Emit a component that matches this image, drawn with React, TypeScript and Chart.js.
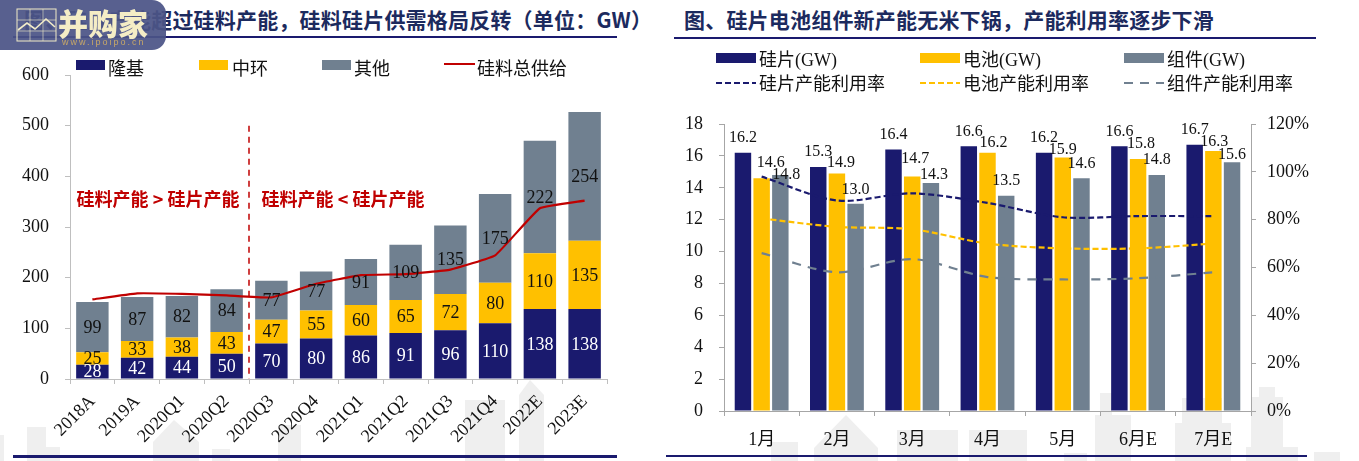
import React, { useEffect, useRef } from "react";
import { Chart, registerables } from "chart.js";

Chart.register(...registerables);

const SERIF = '"Liberation Serif","Noto Sans CJK SC"';
const CJK = '"Noto Sans CJK SC"';
const NAVY = "#1a1a6e";
const YELLOW = "#ffc000";
const SLATE = "#708090";
const RED = "#c00000";
const TITLE = "#1c2a5e";

// left chart
const supplyCategories = ["2018A", "2019A", "2020Q1", "2020Q2", "2020Q3", "2020Q4", "2021Q1", "2021Q2", "2021Q3", "2021Q4", "2022E", "2023E"];
const longi = [28, 42, 44, 50, 70, 80, 86, 91, 96, 110, 138, 138];
const zhonghuan = [25, 33, 38, 43, 47, 55, 60, 65, 72, 80, 110, 135];
const others = [99, 87, 82, 84, 77, 77, 91, 109, 135, 175, 222, 254];
const siliconSupply = [157, 169, 168, 165, 161, 188, 205, 207, 216, 244, 337, 352];

// right chart
const months = ["1月", "2月", "3月", "4月", "5月", "6月E", "7月E"];
const wafer = [16.2, 15.3, 16.4, 16.6, 16.2, 16.6, 16.7];
const cell = [14.6, 14.9, 14.7, 16.2, 15.9, 15.8, 16.3];
const modulePv = [14.8, 13.0, 14.3, 13.5, 14.6, 14.8, 15.6];
const waferRate = [98, 88, 91, 87, 81, 81.5, 81.5];
const cellRate = [80.5, 77, 76, 70, 68, 68, 70];
const moduleRate = [66, 58, 63.5, 56, 55, 55.5, 58];

// hand-placed label shifts seen in the reference (px right, px above the bar top)
const cellLabelDx = [9, 4, 3, 6, 0, 3, 1];
const cellLabelGap = [15, 11, 18, 10, 8, 15, 9];
const moduleLabelDx = [6, 0, 3, 0, 0, 0, 0];
const moduleLabelGap = [0, 14, 8, 15, 14, 15, 7];

const leftDecor = {
  id: "leftDecor",
  afterDatasetsDraw(chart: any) {
    const { ctx, scales } = chart;
    const x = scales.x, y = scales.y;
    ctx.save();
    ctx.textAlign = "center";
    ctx.textBaseline = "middle";
    ctx.font = `18px ${SERIF}`;
    [0, 1, 2].forEach((di) => {
      const meta = chart.getDatasetMeta(di);
      const ds = chart.data.datasets[di];
      ctx.fillStyle = di === 0 ? "#ffffff" : "#111111";
      meta.data.forEach((el: any, i: number) => {
        ctx.fillText(String(ds.data[i]), el.x, (el.y + el.base) / 2 + 1);
      });
    });
    const mid = (x.getPixelForValue(3) + x.getPixelForValue(4)) / 2;
    ctx.strokeStyle = RED;
    ctx.lineWidth = 1.5;
    ctx.setLineDash([6, 5]);
    ctx.beginPath();
    ctx.moveTo(mid, y.getPixelForValue(500));
    ctx.lineTo(mid, y.getPixelForValue(0));
    ctx.stroke();
    ctx.setLineDash([]);
    ctx.fillStyle = RED;
    ctx.font = `bold 18px ${CJK}`;
    const ty = y.getPixelForValue(354);
    ctx.fillText("硅料产能 > 硅片产能", mid - 91, ty);
    ctx.fillText("硅料产能 < 硅片产能", mid + 94, ty);

    // legend
    ctx.textAlign = "left";
    ctx.fillStyle = "#111111";
    ctx.font = `18px ${SERIF}`;
    const swatches = [[76, 108], [199, 232], [322, 354]];
    [0, 1, 2].forEach((di) => {
      const [sx, tx] = swatches[di];
      ctx.fillStyle = chart.data.datasets[di].backgroundColor;
      ctx.fillRect(sx, 60, 29, 10);
      ctx.fillStyle = "#111111";
      ctx.fillText(chart.data.datasets[di].label, tx, 70);
    });
    ctx.strokeStyle = RED;
    ctx.lineWidth = 2;
    ctx.beginPath();
    ctx.moveTo(444, 64);
    ctx.lineTo(475, 64);
    ctx.stroke();
    ctx.fillText(chart.data.datasets[3].label, 477, 70);
    ctx.restore();
  },
};

const rightDecor = {
  id: "rightDecor",
  afterDatasetsDraw(chart: any) {
    const { ctx } = chart;
    ctx.save();
    ctx.textAlign = "center";
    ctx.textBaseline = "middle";
    ctx.font = `16px ${SERIF}`;
    ctx.fillStyle = "#111111";
    [0, 1, 2].forEach((di) => {
      const meta = chart.getDatasetMeta(di);
      const ds = chart.data.datasets[di];
      meta.data.forEach((el: any, i: number) => {
        const dx = di === 1 ? cellLabelDx[i] : di === 2 ? moduleLabelDx[i] : 0;
        const gap = di === 1 ? cellLabelGap[i] : di === 2 ? moduleLabelGap[i] : 15;
        ctx.fillText(Number(ds.data[i]).toFixed(1), el.x + dx, el.y - gap);
      });
    });
    // legend (canvas starts at x = 660 on the page)
    const cols = [56, 260, 464];
    const texts = [99, 303, 507];
    ctx.textAlign = "left";
    ctx.font = `18px ${SERIF}`;
    [0, 1, 2].forEach((di) => {
      const ds = chart.data.datasets[di];
      ctx.fillStyle = ds.backgroundColor;
      ctx.fillRect(cols[di], 53, 40, 10);
      ctx.fillStyle = "#111111";
      ctx.fillText(ds.label, texts[di], 61);
      const ls = chart.data.datasets[di + 3];
      ctx.strokeStyle = ls.borderColor;
      ctx.lineWidth = 2;
      ctx.setLineDash(ls.borderDash);
      ctx.beginPath();
      ctx.moveTo(cols[di], 83);
      ctx.lineTo(cols[di] + 40, 83);
      ctx.stroke();
      ctx.setLineDash([]);
      ctx.fillText(ls.label, texts[di], 85);
    });
    ctx.restore();
  },
};

const fixedWidth = (w: number) => (s: any) => { s.width = w; };
const fixedHeight = (h: number) => (s: any) => { s.height = h; };

function makeLeft(canvas: HTMLCanvasElement) {
  return new Chart(canvas, {
    type: "bar",
    data: {
      labels: supplyCategories,
      datasets: [
        { label: "隆基", data: longi, backgroundColor: NAVY, stack: "s", order: 2 },
        { label: "中环", data: zhonghuan, backgroundColor: YELLOW, stack: "s", order: 2 },
        { label: "其他", data: others, backgroundColor: SLATE, stack: "s", order: 2 },
        { type: "line", label: "硅料总供给", data: siliconSupply, borderColor: RED, borderWidth: 2.2, pointRadius: 0, tension: 0.1, order: 1 },
      ] as any,
    },
    options: {
      animation: false,
      responsive: false,
      devicePixelRatio: 1,
      layout: { padding: { top: 75, right: 53, left: 0, bottom: 0 } },
      plugins: { legend: { display: false }, tooltip: { enabled: false } },
      datasets: { bar: { categoryPercentage: 1, barPercentage: 0.725 } },
      scales: {
        x: {
          stacked: true,
          afterFit: fixedHeight(82),
          grid: { drawOnChartArea: false, color: "#bfbfbf", tickLength: 5 },
          border: { color: "#bfbfbf" },
          ticks: { minRotation: 45, maxRotation: 45, autoSkip: false, padding: 7, color: "#111111", font: { family: SERIF, size: 18 } },
        },
        y: {
          stacked: true,
          min: 0,
          max: 600,
          afterFit: fixedWidth(70),
          grid: { drawOnChartArea: false, color: "#bfbfbf", tickLength: 5 },
          border: { color: "#bfbfbf" },
          ticks: { stepSize: 100, padding: 16, color: "#111111", font: { family: SERIF, size: 18 } },
        },
      },
    } as any,
    plugins: [leftDecor],
  });
}

function makeRight(canvas: HTMLCanvasElement) {
  const line = (label: string, data: number[], color: string, dash: number[]) => ({
    type: "line", label, data, yAxisID: "y2", borderColor: color, borderWidth: 2.2, borderDash: dash, pointRadius: 0, tension: 0.3, order: 1,
  });
  return new Chart(canvas, {
    type: "bar",
    data: {
      labels: months,
      datasets: [
        { label: "硅片(GW)", data: wafer, backgroundColor: NAVY, order: 2 },
        { label: "电池(GW)", data: cell, backgroundColor: YELLOW, order: 2 },
        { label: "组件(GW)", data: modulePv, backgroundColor: SLATE, order: 2 },
        line("硅片产能利用率", waferRate, NAVY, [6, 3]),
        line("电池产能利用率", cellRate, YELLOW, [6, 3]),
        line("组件产能利用率", moduleRate, SLATE, [9, 7]),
      ] as any,
    },
    options: {
      animation: false,
      responsive: false,
      devicePixelRatio: 1,
      layout: { padding: { top: 124, right: 0, left: 0, bottom: 0 } },
      plugins: { legend: { display: false }, tooltip: { enabled: false } },
      datasets: { bar: { categoryPercentage: 0.745, barPercentage: 0.88 } },
      scales: {
        x: {
          afterFit: fixedHeight(50),
          grid: { drawOnChartArea: false, color: "#a6a6a6", tickLength: 5 },
          border: { color: "#a6a6a6" },
          ticks: { autoSkip: false, maxRotation: 0, padding: 13, color: "#111111", font: { family: SERIF, size: 18 } },
        },
        y: {
          min: 0,
          max: 18,
          afterFit: fixedWidth(64),
          grid: { drawOnChartArea: false, color: "#a6a6a6", tickLength: 5 },
          border: { color: "#a6a6a6" },
          ticks: { stepSize: 2, padding: 16, color: "#111111", font: { family: SERIF, size: 18 } },
        },
        y2: {
          position: "right",
          min: 0,
          max: 120,
          afterFit: fixedWidth(108),
          grid: { drawOnChartArea: false, color: "#a6a6a6", tickLength: 5 },
          border: { color: "#a6a6a6" },
          ticks: { stepSize: 20, padding: 11, color: "#111111", font: { family: SERIF, size: 18 }, callback: (v: any) => `${v}%` },
        },
      },
    } as any,
    plugins: [rightDecor],
  });
}

const abs = (s: React.CSSProperties): React.CSSProperties => ({ position: "absolute", ...s });
const titleStyle: React.CSSProperties = {
  position: "absolute", top: 6, fontFamily: CJK, fontWeight: 700, fontSize: 21, lineHeight: "27px", color: TITLE, letterSpacing: 0.2, whiteSpace: "nowrap",
};

export default function App() {
  const leftRef = useRef<HTMLCanvasElement>(null);
  const rightRef = useRef<HTMLCanvasElement>(null);
  useEffect(() => {
    const a = makeLeft(leftRef.current!);
    const b = makeRight(rightRef.current!);
    return () => { a.destroy(); b.destroy(); };
  }, []);
  return (
    <div style={abs({ position: "fixed", left: 0, top: 0, width: 1359, height: 461, overflow: "hidden", background: "#fff" })}>
      <svg width={1359} height={461} style={abs({ left: 0, top: 0 })}>
        <g fill="#efefef">
          <rect x={0} y={435} width={4} height={26} />
          <rect x={27} y={427} width={19} height={34} />
          <rect x={46} y={447} width={14} height={14} />
          <polygon points="153,442 174,420 199,442 199,461 153,461" />
          <rect x={212} y={449} width={18} height={12} />
          <rect x={278} y={425} width={23} height={36} />
          <rect x={465} y={400} width={40} height={61} />
          <polygon points="519,395 530,380 544,395 544,461 519,461" />
          <rect x={771} y={442} width={27} height={19} />
          <polygon points="814,448 846,415 878,448 878,461 814,461" />
          <rect x={897} y={430} width={61} height={31} />
          <rect x={969} y={430} width={58} height={31} />
          <rect x={1064} y={453} width={23} height={8} />
          <rect x={1095} y={415} width={36} height={46} />
          <rect x={1100} y={393} width={12} height={30} />
          <rect x={1175} y={423} width={56} height={38} />
          <rect x={1182} y={398} width={40} height={30} />
          <rect x={1246} y={447} width={52} height={14} />
          <rect x={1251} y={397} width={32} height={60} />
          <rect x={1259} y={387} width={16} height={20} />
          <rect x={1314} y={452} width={26} height={9} />
        </g>
      </svg>
      <div style={{ ...titleStyle, left: 24 }}>图、硅片产能超过硅料产能，硅料硅片供需格局反转（单位：GW）</div>
      <div style={{ ...titleStyle, left: 684 }}>图、硅片电池组件新产能无米下锅，产能利用率逐步下滑</div>
      <div style={abs({ left: 13, top: 36, width: 604, height: 2, background: NAVY })} />
      <div style={abs({ left: 674, top: 37, width: 642, height: 2, background: NAVY })} />
      <div style={abs({ left: 13, top: 455, width: 604, height: 3, background: NAVY })} />
      <div style={abs({ left: 666, top: 455, width: 641, height: 2, background: NAVY })} />
      <canvas ref={leftRef} width={660} height={461} style={abs({ left: 0, top: 0, width: 660, height: 461 })} />
      <canvas ref={rightRef} width={699} height={461} style={abs({ left: 660, top: 0, width: 699, height: 461 })} />
      <div style={abs({ left: 0, top: 0, width: 166, height: 50, background: "rgba(75,84,135,0.93)", borderBottomRightRadius: 14, borderTopRightRadius: 14 })}>
        <svg width={166} height={50} style={abs({ left: 0, top: 0 })}>
          <g fill="none" stroke="#f2ecc8" strokeWidth={1}>
            <rect x={17} y={9} width={39} height={32} />
            <path d="M30 9V41M43 9V41M17 20H56M17 31H56" strokeOpacity={0.6} />
            <path d="M18 30L27 23L35 29L46 19L55 27" strokeWidth={1.6} />
          </g>
        </svg>
        <div style={abs({ left: 58, top: 4, fontFamily: CJK, fontWeight: 900, fontSize: 30, lineHeight: "36px", color: "#f4edc6", whiteSpace: "nowrap" })}>并购家</div>
        <div style={abs({ left: 62, top: 36, fontFamily: '"Liberation Sans"', fontSize: 9, lineHeight: "12px", letterSpacing: 2, color: "#c9a868", whiteSpace: "nowrap" })}>www.ipoipo.cn</div>
      </div>
    </div>
  );
}
